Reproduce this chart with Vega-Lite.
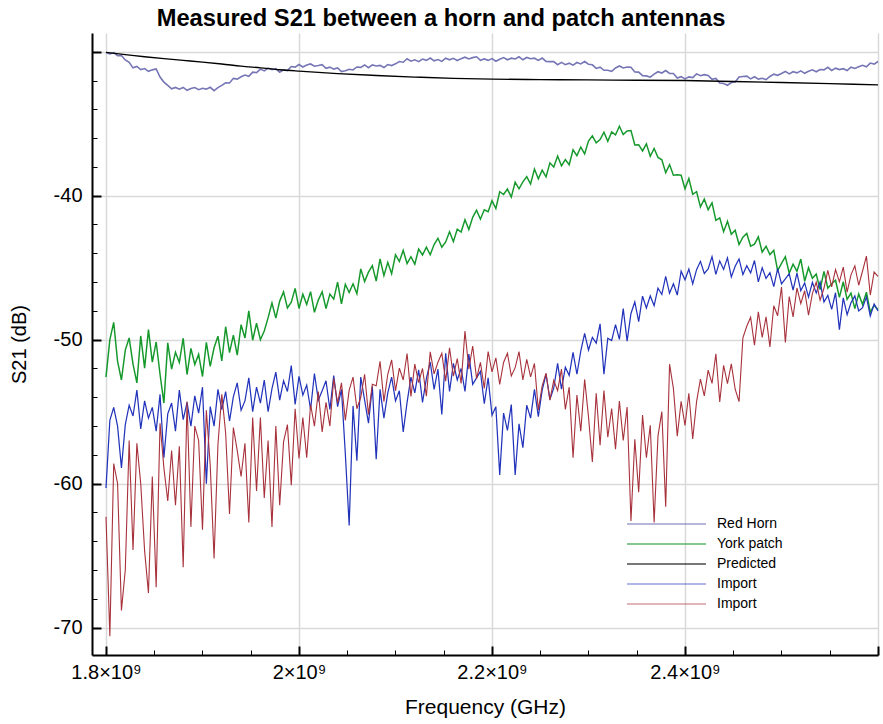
{
"$schema": "https://vega.github.io/schema/vega-lite/v6.json",
"width": 786, "height": 622,
"autosize": {"type": "none"},
"padding": {"left": 92, "top": 33, "right": 5, "bottom": 69},
"background": "white",
"title": {"text": "Measured S21 between a horn and patch antennas", "font": "Liberation Sans", "fontWeight": "bold", "fontSize": 23.7, "color": "black", "anchor": "middle", "frame": "group", "dx": -44, "dy": 24, "baseline": "alphabetic", "offset": 7},
"config": {
 "view": {"stroke": null},
 "axis": {"domainColor": "black", "domainWidth": 2, "tickColor": "black", "gridColor": "#d9d9d9", "gridWidth": 1.5, "labelFont": "Liberation Sans", "labelFontSize": 20, "labelColor": "black", "titleFont": "Liberation Sans", "titleFontWeight": "normal", "titleColor": "black", "labelOverlap": false}
},
"datasets": {
"m": [
{"f":1.8,"h":-30.05,"y":-52.6,"b":-60.3,"r":-62.3},
{"f":1.804,"h":-30.15,"y":-50.0,"b":-55.6,"r":-70.6},
{"f":1.808,"h":-30.07,"y":-48.8,"b":-54.7,"r":-58.6},
{"f":1.812,"h":-30.28,"y":-51.5,"b":-56.0,"r":-60.0},
{"f":1.816,"h":-30.26,"y":-52.8,"b":-58.9,"r":-68.8},
{"f":1.82,"h":-30.57,"y":-50.72,"b":-55.9,"r":-66.0},
{"f":1.824,"h":-30.74,"y":-49.88,"b":-54.55,"r":-57.0},
{"f":1.828,"h":-31.12,"y":-51.7,"b":-55.3,"r":-64.6},
{"f":1.832,"h":-31.02,"y":-53.0,"b":-53.5,"r":-57.2},
{"f":1.836,"h":-31.24,"y":-49.74,"b":-56.2,"r":-60.0},
{"f":1.84,"h":-31.17,"y":-51.98,"b":-54.25,"r":-64.65},
{"f":1.844,"h":-31.36,"y":-49.3,"b":-55.45,"r":-67.6},
{"f":1.848,"h":-31.26,"y":-51.56,"b":-54.7,"r":-59.5},
{"f":1.852,"h":-31.2,"y":-50.16,"b":-56.35,"r":-67.2},
{"f":1.856,"h":-31.76,"y":-52.4,"b":-53.8,"r":-55.8},
{"f":1.86,"h":-32.11,"y":-54.4,"b":-58.2,"r":-58.9},
{"f":1.864,"h":-32.34,"y":-50.22,"b":-55.15,"r":-61.2},
{"f":1.868,"h":-32.58,"y":-52.04,"b":-54.4,"r":-57.7},
{"f":1.872,"h":-32.48,"y":-50.88,"b":-56.35,"r":-61.5},
{"f":1.876,"h":-32.6,"y":-51.58,"b":-53.5,"r":-57.4},
{"f":1.88,"h":-32.48,"y":-49.9,"b":-55.55,"r":-65.8},
{"f":1.884,"h":-32.68,"y":-52.42,"b":-54.35,"r":-54.3},
{"f":1.888,"h":-32.56,"y":-50.6,"b":-56.0,"r":-63.0},
{"f":1.892,"h":-32.49,"y":-51.72,"b":-53.9,"r":-56.0},
{"f":1.896,"h":-32.64,"y":-51.02,"b":-55.1,"r":-57.0},
{"f":1.9,"h":-32.54,"y":-52.56,"b":-53.3,"r":-63.2},
{"f":1.904,"h":-32.6,"y":-50.18,"b":-60.0,"r":-54.9},
{"f":1.908,"h":-32.47,"y":-51.86,"b":-54.65,"r":-58.7},
{"f":1.912,"h":-32.7,"y":-50.56,"b":-56.0,"r":-65.2},
{"f":1.916,"h":-32.49,"y":-49.76,"b":-53.45,"r":-57.3},
{"f":1.92,"h":-32.34,"y":-51.48,"b":-54.85,"r":-53.8},
{"f":1.924,"h":-32.16,"y":-49.1,"b":-53.6,"r":-56.5},
{"f":1.928,"h":-32.17,"y":-50.9,"b":-55.65,"r":-62.1},
{"f":1.932,"h":-31.85,"y":-49.68,"b":-53.95,"r":-56.1},
{"f":1.936,"h":-31.9,"y":-51.07,"b":-53.0,"r":-57.7},
{"f":1.94,"h":-31.74,"y":-48.96,"b":-54.9,"r":-59.5},
{"f":1.944,"h":-31.62,"y":-49.88,"b":-54.25,"r":-57.2},
{"f":1.948,"h":-31.71,"y":-48.0,"b":-52.65,"r":-62.7},
{"f":1.952,"h":-31.42,"y":-50.04,"b":-55.0,"r":-55.4},
{"f":1.956,"h":-31.45,"y":-48.86,"b":-53.3,"r":-60.5},
{"f":1.96,"h":-31.21,"y":-50.0,"b":-54.4,"r":-55.4},
{"f":1.964,"h":-31.33,"y":-49.4,"b":-52.8,"r":-61.0},
{"f":1.968,"h":-31.14,"y":-48.47,"b":-55.0,"r":-57.0},
{"f":1.972,"h":-31.25,"y":-47.45,"b":-53.4,"r":-63.0},
{"f":1.976,"h":-31.17,"y":-48.5,"b":-52.25,"r":-56.0},
{"f":1.98,"h":-31.42,"y":-47.32,"b":-54.2,"r":-61.5},
{"f":1.984,"h":-31.26,"y":-46.68,"b":-52.85,"r":-57.1},
{"f":1.988,"h":-31.31,"y":-47.8,"b":-53.6,"r":-55.9},
{"f":1.992,"h":-31.03,"y":-47.39,"b":-51.8,"r":-60.1},
{"f":1.996,"h":-31.07,"y":-46.44,"b":-54.5,"r":-54.8},
{"f":2.0,"h":-30.89,"y":-47.83,"b":-52.55,"r":-58.25},
{"f":2.004,"h":-31.06,"y":-46.84,"b":-53.85,"r":-55.4},
{"f":2.008,"h":-30.93,"y":-47.56,"b":-53.15,"r":-58.2},
{"f":2.012,"h":-30.85,"y":-46.66,"b":-54.85,"r":-54.5},
{"f":2.016,"h":-31.01,"y":-48.1,"b":-52.35,"r":-56.0},
{"f":2.02,"h":-30.96,"y":-47.25,"b":-54.2,"r":-53.6},
{"f":2.024,"h":-30.9,"y":-46.67,"b":-53.55,"r":-56.4},
{"f":2.028,"h":-31.15,"y":-47.84,"b":-52.85,"r":-54.35},
{"f":2.032,"h":-31.07,"y":-46.83,"b":-54.85,"r":-56.0},
{"f":2.036,"h":-31.21,"y":-47.18,"b":-52.5,"r":-52.7},
{"f":2.04,"h":-31.13,"y":-46.0,"b":-54.65,"r":-54.4},
{"f":2.044,"h":-31.38,"y":-47.52,"b":-53.45,"r":-53.0},
{"f":2.048,"h":-31.32,"y":-46.15,"b":-57.9,"r":-55.6},
{"f":2.052,"h":-31.22,"y":-46.72,"b":-62.9,"r":-53.5},
{"f":2.056,"h":-31.27,"y":-46.12,"b":-54.6,"r":-52.6},
{"f":2.06,"h":-31.06,"y":-46.81,"b":-58.4,"r":-54.8},
{"f":2.064,"h":-31.09,"y":-45.08,"b":-52.6,"r":-54.0},
{"f":2.068,"h":-30.92,"y":-45.96,"b":-54.2,"r":-52.4},
{"f":2.072,"h":-31.11,"y":-45.31,"b":-55.8,"r":-55.2},
{"f":2.076,"h":-30.92,"y":-44.86,"b":-53.25,"r":-53.1},
{"f":2.08,"h":-30.99,"y":-45.93,"b":-58.3,"r":-53.2},
{"f":2.084,"h":-30.95,"y":-44.39,"b":-53.45,"r":-51.5},
{"f":2.088,"h":-31.1,"y":-45.55,"b":-55.45,"r":-54.3},
{"f":2.092,"h":-30.89,"y":-44.63,"b":-53.7,"r":-52.4},
{"f":2.096,"h":-30.96,"y":-45.42,"b":-52.6,"r":-51.4},
{"f":2.1,"h":-30.84,"y":-44.1,"b":-54.25,"r":-53.55},
{"f":2.104,"h":-30.68,"y":-44.57,"b":-53.55,"r":-51.97},
{"f":2.108,"h":-30.73,"y":-43.8,"b":-56.4,"r":-52.8},
{"f":2.112,"h":-30.49,"y":-44.71,"b":-54.35,"r":-50.96},
{"f":2.116,"h":-30.66,"y":-44.24,"b":-52.6,"r":-53.94},
{"f":2.12,"h":-30.56,"y":-44.75,"b":-53.7,"r":-51.7},
{"f":2.124,"h":-30.69,"y":-43.71,"b":-52.1,"r":-52.98},
{"f":2.128,"h":-30.51,"y":-44.12,"b":-54.35,"r":-52.0},
{"f":2.132,"h":-30.6,"y":-43.57,"b":-52.7,"r":-53.93},
{"f":2.136,"h":-30.44,"y":-44.1,"b":-51.55,"r":-50.85},
{"f":2.14,"h":-30.63,"y":-43.39,"b":-53.45,"r":-52.37},
{"f":2.144,"h":-30.54,"y":-42.96,"b":-52.05,"r":-51.57},
{"f":2.148,"h":-30.67,"y":-43.58,"b":-55.2,"r":-50.94},
{"f":2.152,"h":-30.45,"y":-43.21,"b":-50.95,"r":-52.88},
{"f":2.156,"h":-30.56,"y":-42.5,"b":-53.6,"r":-50.57},
{"f":2.16,"h":-30.46,"y":-43.19,"b":-51.65,"r":-52.54},
{"f":2.164,"h":-30.61,"y":-42.33,"b":-52.8,"r":-51.32},
{"f":2.168,"h":-30.48,"y":-42.52,"b":-52.0,"r":-53.04},
{"f":2.172,"h":-30.38,"y":-41.67,"b":-53.6,"r":-49.4},
{"f":2.176,"h":-30.5,"y":-42.35,"b":-51.0,"r":-52.04},
{"f":2.18,"h":-30.41,"y":-41.5,"b":-53.1,"r":-50.44},
{"f":2.184,"h":-30.35,"y":-41.01,"b":-52.65,"r":-52.7},
{"f":2.188,"h":-30.6,"y":-41.63,"b":-52.2,"r":-51.57},
{"f":2.192,"h":-30.5,"y":-40.98,"b":-54.45,"r":-53.38},
{"f":2.196,"h":-30.6,"y":-41.11,"b":-52.65,"r":-50.82},
{"f":2.2,"h":-30.48,"y":-40.35,"b":-55.25,"r":-52.23},
{"f":2.204,"h":-30.66,"y":-40.89,"b":-54.65,"r":-51.26},
{"f":2.208,"h":-30.52,"y":-39.72,"b":-59.4,"r":-53.1},
{"f":2.212,"h":-30.41,"y":-39.92,"b":-55.1,"r":-51.58},
{"f":2.216,"h":-30.56,"y":-39.54,"b":-56.3,"r":-50.94},
{"f":2.22,"h":-30.45,"y":-40.1,"b":-54.5,"r":-52.52},
{"f":2.224,"h":-30.5,"y":-39.06,"b":-59.4,"r":-51.94},
{"f":2.228,"h":-30.35,"y":-39.52,"b":-55.85,"r":-50.83},
{"f":2.232,"h":-30.56,"y":-39.04,"b":-57.5,"r":-52.8},
{"f":2.236,"h":-30.4,"y":-38.67,"b":-54.55,"r":-51.37},
{"f":2.24,"h":-30.49,"y":-39.19,"b":-55.45,"r":-52.58},
{"f":2.244,"h":-30.45,"y":-38.15,"b":-53.45,"r":-51.65},
{"f":2.248,"h":-30.6,"y":-38.83,"b":-55.35,"r":-54.88},
{"f":2.252,"h":-30.44,"y":-38.23,"b":-53.5,"r":-53.2},
{"f":2.256,"h":-30.67,"y":-38.69,"b":-52.4,"r":-52.32},
{"f":2.26,"h":-30.69,"y":-37.72,"b":-54.15,"r":-54.2},
{"f":2.264,"h":-30.69,"y":-38.01,"b":-53.35,"r":-52.82},
{"f":2.268,"h":-30.9,"y":-37.25,"b":-51.65,"r":-53.54},
{"f":2.272,"h":-30.74,"y":-37.93,"b":-53.44,"r":-52.04},
{"f":2.276,"h":-30.9,"y":-37.49,"b":-51.92,"r":-54.84},
{"f":2.28,"h":-30.8,"y":-37.85,"b":-52.48,"r":-53.3},
{"f":2.284,"h":-30.93,"y":-36.81,"b":-50.88,"r":-58.2},
{"f":2.288,"h":-30.75,"y":-37.22,"b":-52.4,"r":-53.84},
{"f":2.292,"h":-30.85,"y":-36.62,"b":-50.8,"r":-56.36},
{"f":2.296,"h":-30.68,"y":-37.1,"b":-49.56,"r":-52.76},
{"f":2.3,"h":-30.87,"y":-36.21,"b":-50.72,"r":-55.36},
{"f":2.304,"h":-30.91,"y":-35.84,"b":-49.84,"r":-58.5},
{"f":2.308,"h":-31.16,"y":-36.33,"b":-50.24,"r":-53.72},
{"f":2.312,"h":-31.07,"y":-36.1,"b":-48.9,"r":-57.33},
{"f":2.316,"h":-31.29,"y":-35.59,"b":-52.4,"r":-53.54},
{"f":2.32,"h":-31.29,"y":-36.22,"b":-49.9,"r":-56.78},
{"f":2.324,"h":-31.36,"y":-35.57,"b":-50.06,"r":-54.78},
{"f":2.328,"h":-31.13,"y":-35.78,"b":-48.96,"r":-57.6},
{"f":2.332,"h":-30.99,"y":-35.18,"b":-49.98,"r":-54.26},
{"f":2.336,"h":-31.13,"y":-35.75,"b":-47.84,"r":-57.0},
{"f":2.34,"h":-31.06,"y":-35.5,"b":-50.1,"r":-54.68},
{"f":2.344,"h":-31.08,"y":-35.48,"b":-48.18,"r":-62.6},
{"f":2.348,"h":-31.41,"y":-36.47,"b":-47.38,"r":-56.92},
{"f":2.352,"h":-31.42,"y":-36.46,"b":-48.74,"r":-60.6},
{"f":2.356,"h":-31.66,"y":-36.89,"b":-46.98,"r":-55.24},
{"f":2.36,"h":-31.68,"y":-36.4,"b":-47.8,"r":-58.2},
{"f":2.364,"h":-31.77,"y":-37.26,"b":-46.96,"r":-55.94},
{"f":2.368,"h":-31.55,"y":-36.72,"b":-47.64,"r":-62.7},
{"f":2.372,"h":-31.39,"y":-37.34,"b":-46.42,"r":-56.7},
{"f":2.376,"h":-31.48,"y":-37.51,"b":-46.86,"r":-55.0},
{"f":2.38,"h":-31.31,"y":-38.41,"b":-45.6,"r":-61.6},
{"f":2.384,"h":-31.51,"y":-37.84,"b":-46.78,"r":-51.7},
{"f":2.388,"h":-31.51,"y":-38.58,"b":-46.12,"r":-53.4},
{"f":2.392,"h":-31.83,"y":-38.55,"b":-46.9,"r":-56.7},
{"f":2.396,"h":-31.73,"y":-38.58,"b":-45.24,"r":-54.28},
{"f":2.4,"h":-31.89,"y":-39.52,"b":-45.84,"r":-55.96},
{"f":2.404,"h":-31.75,"y":-38.81,"b":-45.1,"r":-53.72},
{"f":2.408,"h":-31.8,"y":-39.9,"b":-46.12,"r":-56.9},
{"f":2.412,"h":-31.54,"y":-39.72,"b":-45.14,"r":-54.3},
{"f":2.416,"h":-31.67,"y":-40.78,"b":-44.56,"r":-52.74},
{"f":2.42,"h":-31.59,"y":-40.24,"b":-45.4,"r":-53.9},
{"f":2.424,"h":-31.65,"y":-40.97,"b":-45.08,"r":-52.11},
{"f":2.428,"h":-31.92,"y":-40.5,"b":-44.23,"r":-53.03},
{"f":2.432,"h":-31.86,"y":-41.71,"b":-45.46,"r":-50.98},
{"f":2.436,"h":-32.17,"y":-41.54,"b":-44.53,"r":-54.33},
{"f":2.44,"h":-32.21,"y":-42.5,"b":-45.12,"r":-51.79},
{"f":2.444,"h":-32.33,"y":-41.78,"b":-44.32,"r":-53.05},
{"f":2.448,"h":-32.14,"y":-42.68,"b":-45.65,"r":-51.68},
{"f":2.452,"h":-32.11,"y":-42.4,"b":-44.9,"r":-53.44},
{"f":2.456,"h":-31.75,"y":-43.39,"b":-44.39,"r":-54.3},
{"f":2.46,"h":-31.72,"y":-42.88,"b":-45.48,"r":-49.87},
{"f":2.464,"h":-31.7,"y":-42.62,"b":-44.86,"r":-49.07},
{"f":2.468,"h":-31.89,"y":-43.5,"b":-45.36,"r":-48.44},
{"f":2.472,"h":-31.74,"y":-43.36,"b":-44.5,"r":-50.38},
{"f":2.476,"h":-31.9,"y":-42.86,"b":-45.99,"r":-48.07},
{"f":2.48,"h":-31.84,"y":-43.92,"b":-45.0,"r":-49.84},
{"f":2.484,"h":-31.93,"y":-43.51,"b":-45.74,"r":-48.42},
{"f":2.488,"h":-31.72,"y":-44.09,"b":-45.34,"r":-50.5},
{"f":2.492,"h":-31.56,"y":-43.79,"b":-46.32,"r":-47.64},
{"f":2.496,"h":-31.64,"y":-45.2,"b":-45.06,"r":-48.34},
{"f":2.5,"h":-31.51,"y":-44.7,"b":-46.12,"r":-46.34},
{"f":2.504,"h":-31.37,"y":-44.24,"b":-45.77,"r":-50.2},
{"f":2.508,"h":-31.54,"y":-45.38,"b":-45.42,"r":-47.0},
{"f":2.512,"h":-31.39,"y":-44.76,"b":-46.56,"r":-48.42},
{"f":2.516,"h":-31.47,"y":-45.26,"b":-45.38,"r":-46.41},
{"f":2.52,"h":-31.33,"y":-44.4,"b":-46.6,"r":-47.5},
{"f":2.524,"h":-31.5,"y":-45.94,"b":-46.06,"r":-46.6},
{"f":2.528,"h":-31.36,"y":-45.0,"b":-47.04,"r":-48.29},
{"f":2.532,"h":-31.26,"y":-45.74,"b":-46.02,"r":-46.8},
{"f":2.536,"h":-31.39,"y":-45.44,"b":-46.76,"r":-46.0},
{"f":2.54,"h":-31.24,"y":-46.52,"b":-46.0,"r":-47.26},
{"f":2.544,"h":-31.26,"y":-45.26,"b":-47.38,"r":-46.43},
{"f":2.548,"h":-31.08,"y":-46.42,"b":-46.92,"r":-45.19},
{"f":2.552,"h":-31.3,"y":-46.12,"b":-47.9,"r":-46.34},
{"f":2.556,"h":-31.14,"y":-45.87,"b":-46.74,"r":-45.14},
{"f":2.56,"h":-31.24,"y":-47.06,"b":-49.3,"r":-45.98},
{"f":2.564,"h":-31.18,"y":-45.98,"b":-47.1,"r":-44.96},
{"f":2.568,"h":-31.31,"y":-47.2,"b":-48.27,"r":-46.7},
{"f":2.572,"h":-31.07,"y":-46.76,"b":-47.44,"r":-45.5},
{"f":2.576,"h":-31.16,"y":-47.84,"b":-46.96,"r":-44.87},
{"f":2.58,"h":-31.04,"y":-46.82,"b":-48.0,"r":-46.22},
{"f":2.584,"h":-30.94,"y":-47.56,"b":-47.78,"r":-45.23},
{"f":2.588,"h":-31.05,"y":-46.7,"b":-47.03,"r":-44.2},
{"f":2.592,"h":-30.79,"y":-48.08,"b":-48.36,"r":-46.9},
{"f":2.596,"h":-30.86,"y":-47.62,"b":-47.53,"r":-45.3},
{"f":2.6,"h":-30.68,"y":-47.9,"b":-48.0,"r":-45.6}
],
"pred": [
{"f":1.8,"s":"p","v":-30.05},{"f":1.82,"s":"p","v":-30.2},{"f":1.84,"s":"p","v":-30.35},{"f":1.86,"s":"p","v":-30.48},
{"f":1.88,"s":"p","v":-30.6},{"f":1.9,"s":"p","v":-30.72},{"f":1.92,"s":"p","v":-30.85},{"f":1.94,"s":"p","v":-31.0},
{"f":1.96,"s":"p","v":-31.12},{"f":1.98,"s":"p","v":-31.25},{"f":2.0,"s":"p","v":-31.35},{"f":2.04,"s":"p","v":-31.52},
{"f":2.08,"s":"p","v":-31.65},{"f":2.12,"s":"p","v":-31.76},{"f":2.16,"s":"p","v":-31.85},{"f":2.2,"s":"p","v":-31.9},
{"f":2.25,"s":"p","v":-31.94},{"f":2.3,"s":"p","v":-31.96},{"f":2.35,"s":"p","v":-31.98},{"f":2.4,"s":"p","v":-32.0},
{"f":2.45,"s":"p","v":-32.07},{"f":2.5,"s":"p","v":-32.14},{"f":2.55,"s":"p","v":-32.22},{"f":2.6,"s":"p","v":-32.3}
]
},
"encoding": {
 "x": {"field": "f", "type": "quantitative",
  "scale": {"domain": [1.7855, 2.6], "nice": false, "zero": false},
  "axis": {"title": "Frequency (GHz)", "titleFontSize": 21, "titlePadding": 10,
   "values": [1.8,1.85,1.9,1.95,2.0,2.05,2.1,2.15,2.2,2.25,2.3,2.35,2.4,2.45,2.5,2.55,2.6],
   "labelExpr": "abs(datum.value*5 - round(datum.value*5)) < 0.01 && datum.value < 2.55 ? datum.value + '×10⁹' : ''",
   "labelFlush": false, "labelPadding": 16,
   "tickSize": {"condition": {"test": "abs(datum.value*5 - round(datum.value*5)) < 0.01", "value": -9}, "value": -5},
   "tickWidth": {"condition": {"test": "abs(datum.value*5 - round(datum.value*5)) < 0.01", "value": 2}, "value": 1},
   "gridOpacity": {"condition": {"test": "abs(datum.value*5 - round(datum.value*5)) < 0.01", "value": 1}, "value": 0}}},
 "y": {"field": "v", "type": "quantitative",
  "scale": {"domain": [-71.9, -28.7], "nice": false, "zero": false},
  "axis": {"title": "S21 (dB)", "titleFontSize": 20, "titlePadding": 24,
   "values": [-70,-68,-66,-64,-62,-60,-58,-56,-54,-52,-50,-48,-46,-44,-42,-40,-38,-36,-34,-32,-30],
   "labelExpr": "datum.value % 10 == 0 && datum.value != -30 ? '' + datum.value : ''",
   "labelPadding": 19,
   "tickSize": {"condition": {"test": "datum.value % 10 == 0", "value": -9}, "value": -5},
   "tickWidth": {"condition": {"test": "datum.value % 10 == 0", "value": 2}, "value": 1},
   "gridOpacity": {"condition": {"test": "datum.value % 10 == 0", "value": 1}, "value": 0}}},
 "color": {"field": "s", "type": "nominal",
  "scale": {"domain": ["h", "y", "p", "b", "r"], "range": ["#7676b6", "#16992c", "#000000", "#2233bb", "#a8323c"]},
  "legend": {"orient": "none", "legendX": 534, "legendY": 481, "title": null, "padding": 0,
   "symbolType": "stroke", "symbolSize": 6241, "symbolStrokeWidth": 1.5, "symbolOpacity": 0.7,
   "clipHeight": 20, "rowPadding": 0, "labelOffset": 10, "labelFont": "Liberation Sans", "labelFontSize": 14, "labelColor": "black",
   "labelExpr": "datum.label == 'h' ? 'Red Horn' : datum.label == 'y' ? 'York patch' : datum.label == 'p' ? 'Predicted' : 'Import'"}},
 "strokeWidth": {"field": "s", "type": "nominal",
  "scale": {"domain": ["h", "y", "p", "b", "r"], "range": [1.6, 1.1, 1.3, 1.1, 1.1]}, "legend": null}
},
"layer": [
 {"data": {"name": "m"}, "transform": [{"fold": ["h", "y", "b", "r"], "as": ["s", "v"]}],
  "mark": {"type": "line"}},
 {"data": {"name": "pred"}, "mark": {"type": "line", "interpolate": "monotone"}}
]
}
